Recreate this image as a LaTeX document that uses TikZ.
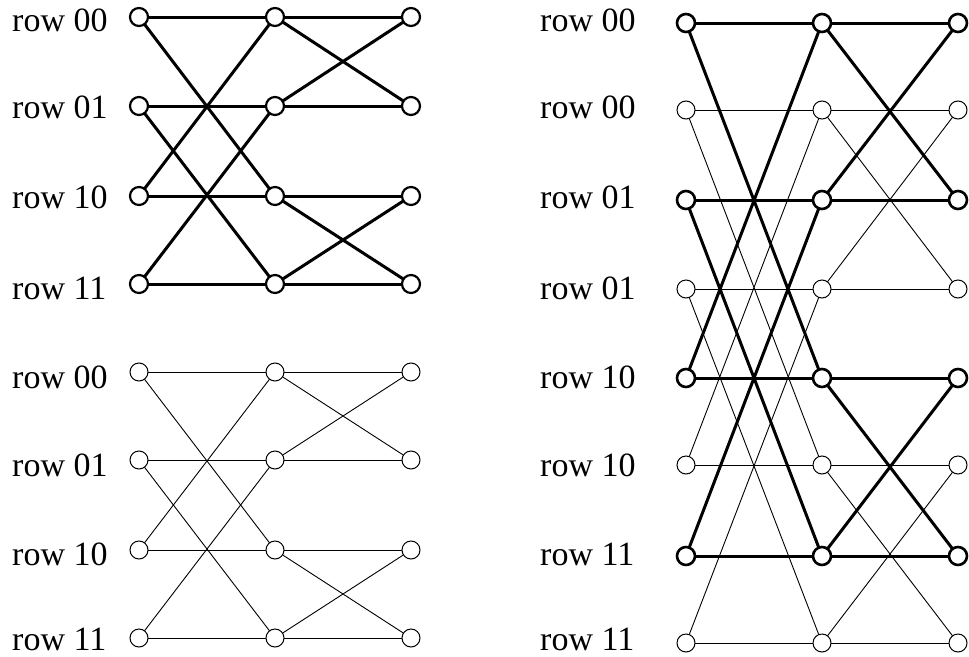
\documentclass[tikz,border=0pt]{standalone}
\usepackage{fontspec}
\setmainfont{Liberation Serif}
\usetikzlibrary{backgrounds}
\begin{document}
\begin{tikzpicture}[x=1pt,y=-1pt,
 bignode/.style={circle,draw,fill=white,minimum size=18pt,inner sep=0pt,outer sep=0pt,line width=2.2pt},
 smallnode/.style={circle,draw,fill=white,minimum size=18pt,inner sep=0pt,outer sep=0pt,line width=1pt},
 bigedge/.style={line width=3pt},
 smalledge/.style={line width=0.9pt},
 lbl/.style={anchor=base west,inner sep=0pt,font=\fontsize{34}{40}\selectfont}]
\useasboundingbox (0,0) rectangle (969,656);
% labels
\foreach \i/\y/\t in {1/31/00,2/118/01,3/208/10,4/299/11,5/388/00,6/476/01,7/565/10,8/650/11}
  \node[lbl] (L\i) at (12,\y) {row \t};
\foreach \i/\y/\t in {1/31/00,2/118/00,3/208/01,4/299/01,5/388/10,6/476/10,7/565/11,8/650/11}
  \node[lbl] (M\i) at (540,\y) {row \t};
% left top (thick)
\foreach \r/\y in {0/17,1/106,2/196,3/284}
  \foreach \c/\x in {0/139,1/275,2/411}
    \node[bignode] (A\c\r) at (\x,\y) {};
% left bottom (thin)
\foreach \r/\y in {0/372,1/460,2/550,3/638}
  \foreach \c/\x in {0/139,1/275,2/411}
    \node[smallnode] (B\c\r) at (\x,\y) {};
% right
\foreach \r/\y in {0/23,2/200,4/378,6/556}
  \foreach \c/\x in {0/686,1/822,2/958}
    \node[bignode,line width=2.6pt] (R\c\r) at (\x,\y) {};
\foreach \r/\y in {1/110,3/289,5/465,7/643}
  \foreach \c/\x in {0/686,1/822,2/958}
    \node[smallnode] (R\c\r) at (\x,\y) {};
\begin{scope}[on background layer]
  \foreach \r/\p in {0/2,1/3,2/0,3/1} {
    \draw[bigedge] (A0\r) -- (A1\r);
    \draw[bigedge] (A0\r) -- (A1\p);
    \draw[smalledge] (B0\r) -- (B1\r);
    \draw[smalledge] (B0\r) -- (B1\p);
  }
  \foreach \r/\p in {0/1,1/0,2/3,3/2} {
    \draw[bigedge] (A1\r) -- (A2\r);
    \draw[bigedge] (A1\r) -- (A2\p);
    \draw[smalledge] (B1\r) -- (B2\r);
    \draw[smalledge] (B1\r) -- (B2\p);
  }
  \foreach \r/\p in {0/4,2/6,4/0,6/2} {
    \draw[bigedge] (R0\r) -- (R1\r);
    \draw[bigedge] (R0\r) -- (R1\p);
  }
  \foreach \r/\p in {0/2,2/0,4/6,6/4} {
    \draw[bigedge] (R1\r) -- (R2\r);
    \draw[bigedge] (R1\r) -- (R2\p);
  }
  \foreach \r/\p in {1/5,3/7,5/1,7/3} {
    \draw[smalledge] (R0\r) -- (R1\r);
    \draw[smalledge] (R0\r) -- (R1\p);
  }
  \foreach \r/\p in {1/3,3/1,5/7,7/5} {
    \draw[smalledge] (R1\r) -- (R2\r);
    \draw[smalledge] (R1\r) -- (R2\p);
  }
\end{scope}
\end{tikzpicture}
\end{document}
